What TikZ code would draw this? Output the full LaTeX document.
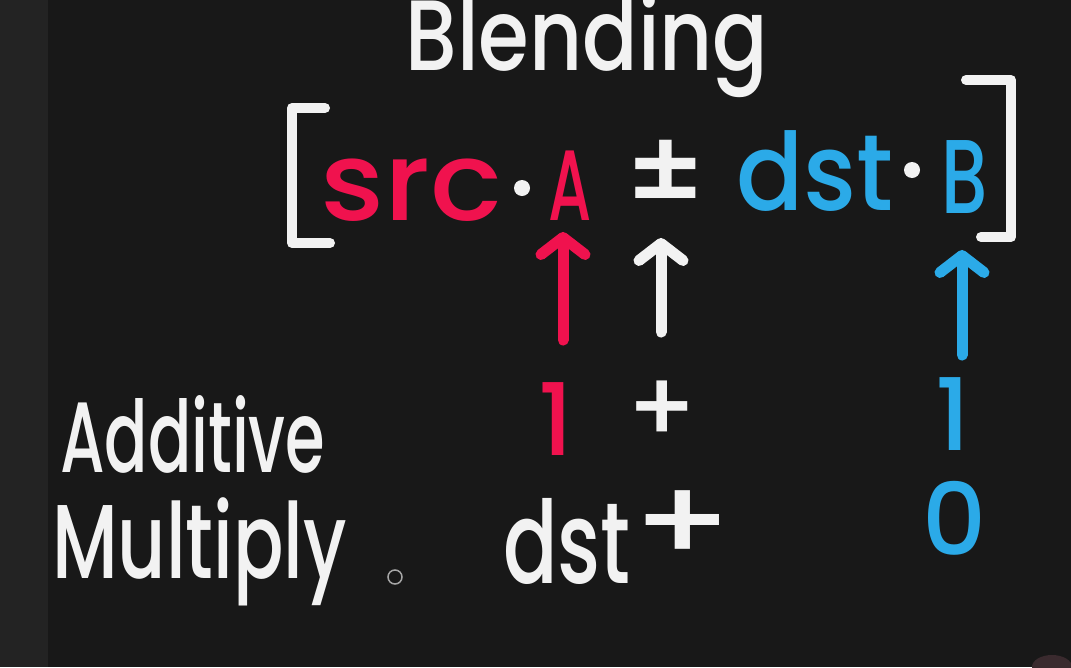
\documentclass[tikz,border=0pt]{standalone}
\usepackage{fontspec}
\setmainfont{Poppins}[BoldFont={* Medium}]
\usetikzlibrary{arrows.meta}
\definecolor{bgcol}{HTML}{181818}
\definecolor{stripcol}{HTML}{232323}
\definecolor{hred}{HTML}{F0124E}
\definecolor{hblue}{HTML}{2BAAE8}
\definecolor{hwhite}{HTML}{F2F2F2}
\definecolor{blobcol}{HTML}{3A2A2E}
\newcommand\hwsize[1]{\fontsize{#1}{#1}\selectfont\bfseries}
\tikzset{
  hw/.style={inner sep=0pt, outer sep=0pt, font=\hwsize{#1}},
  redtxt/.style={text=hred},
  bluetxt/.style={text=hblue},
  whitetxt/.style={text=hwhite},
  brk/.style={draw=hwhite, line width=10pt, line cap=round, line join=round},
  dotsym/.style={circle, fill=hwhite, minimum size=16pt, inner sep=0pt},
  harrow/.style={line width=11pt, line cap=round,
    -{Straight Barb[round, length=17pt, width=44pt]}},
}
\begin{document}
\begin{tikzpicture}[x=1pt,y=-1pt]
\fill[bgcol] (0,0) rectangle (1071,667);
\fill[stripcol] (0,0) rectangle (48,667);
\useasboundingbox (0,0) rectangle (1071,667);

% title
\node[hw=100, whitetxt, anchor=base, xscale=0.82] (title) at (587,70) {Blending};

% brackets
\draw[brk] (325,108) -- (292,108) -- (292,243) -- (330,243);
\draw[brk] (966,80) -- (1011,80) -- (1011,237) -- (981,237);

% expression
\node[hw=110, redtxt, anchor=base west, xscale=1.09] (src) at (320,220) {src};
\node[dotsym] (dot1) at (522,188) {};
\node[hw=100, redtxt, anchor=base, xscale=0.62] (A) at (570,220) {A};
\node[hw=118, whitetxt, anchor=base] (pm) at (666,213) {±};
\node[hw=108, bluetxt, anchor=base west, xscale=0.92] (dst) at (736,210) {dst};
\node[dotsym] (dot2) at (912,170) {};
\node[hw=105, bluetxt, anchor=base, xscale=0.7] (B) at (965,213) {B};

% values
\node[hw=100, redtxt, anchor=base] (r1) at (556,455) {1};
\node[hw=100, whitetxt] (plus1) at (662,412) {+};
\node[hw=100, bluetxt, anchor=base] (b1) at (953,450) {1};
\node[hw=115, whitetxt, xscale=1.25] (plus2) at (683,526) {+};
\node[hw=100, bluetxt, anchor=base] (b0) at (955,555) {0};

% labels
\node[hw=100, whitetxt, anchor=base west, xscale=0.64] (add) at (60,472) {Additive};
\node[hw=105, whitetxt, anchor=base west, xscale=0.71] (mul) at (52,578) {Multiply};
\node[hw=115, whitetxt, anchor=base west, xscale=0.7] (wdst) at (503,583) {dst};

% arrows
\coordinate (ra0) at (563,340);
\coordinate (ra1) at (563,232);
\coordinate (wa0) at (661,332);
\coordinate (wa1) at (661,238);
\coordinate (ba0) at (962,355);
\coordinate (ba1) at (962,250);
\draw[harrow, draw=hred] (ra0) -- (ra1);
\draw[harrow, draw=hwhite] (wa0) -- (wa1);
\draw[harrow, draw=hblue] (ba0) -- (ba1);

% cursor and blob
\node[circle, draw=gray!70, line width=1.5pt, minimum size=14pt, inner sep=0pt] (cursor) at (395,577) {};
\fill[blobcol] (1052,667) ellipse (20pt and 12pt);
\end{tikzpicture}
\end{document}
